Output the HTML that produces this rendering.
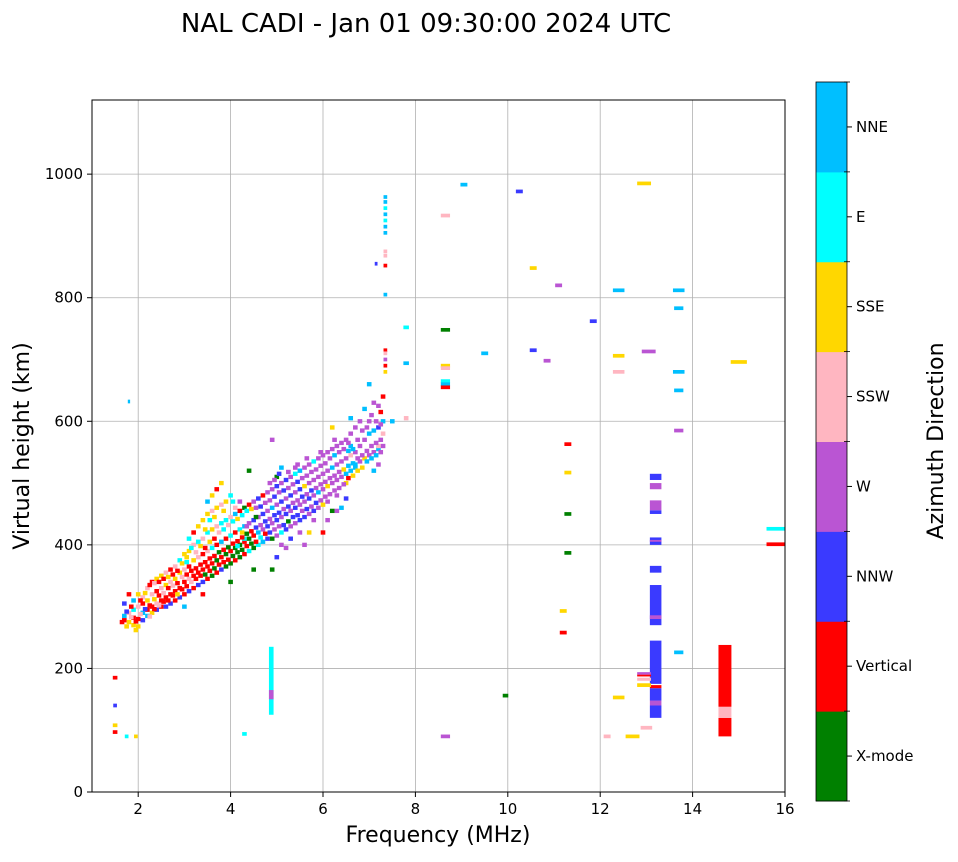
<!DOCTYPE html>
<html><head><meta charset="utf-8"><style>
body{margin:0;background:#fff}
svg text{font-family:"DejaVu Sans","Liberation Sans",sans-serif;fill:#000}
</style></head><body>
<svg id="chart" width="958" height="857" viewBox="0 0 958 857" xmlns="http://www.w3.org/2000/svg">
<text x="426" y="32" font-size="26" text-anchor="middle">NAL CADI - Jan 01 09:30:00 2024 UTC</text>
<g id="grid"></g>
<g id="marks"></g>
<rect x="92" y="100" width="693" height="692" fill="none" stroke="#000" stroke-width="1"/>
<g id="axes"></g>
<text x="438" y="842" font-size="22" text-anchor="middle">Frequency (MHz)</text>
<text transform="translate(29,446) rotate(-90)" font-size="22" text-anchor="middle">Virtual height (km)</text>
<g id="cbar"></g>
<text transform="translate(943,441) rotate(-90)" font-size="22" text-anchor="middle">Azimuth Direction</text>
</svg>
<script>
const categories=['X-mode','Vertical','NNW','W','SSW','SSE','E','NNE'];
const catColors=['#008000','#ff0000','#3a3aff','#ba55d3','#ffb6c1','#ffd700','#00ffff','#00bfff'];
const xTicks=[2,4,6,8,10,12,14,16];
const yTicks=[0,200,400,600,800,1000];
// cloud points: [freq, height, categoryIndex]
const cloudPoints=[
[1.7,285,7],[1.7,278,1],[1.7,305,2],[1.8,290,4],[1.8,275,5],[1.8,320,1],
[1.9,282,1],[1.9,295,6],[1.9,270,5],[1.9,310,7],[2.0,280,1],[2.0,300,4],[2.0,268,5],[2.0,320,5],
[2.1,290,7],[2.1,305,1],[2.1,315,4],[2.1,278,2],[2.2,295,1],[2.2,310,5],[2.2,330,4],[2.2,285,7],
[2.3,300,1],[2.3,320,4],[2.3,340,1],[2.3,290,5],[2.4,305,4],[2.4,325,1],[2.4,345,5],[2.4,295,2],
[2.5,310,1],[2.5,330,4],[2.5,350,5],[2.5,300,1],[2.6,315,1],[2.6,335,5],[2.6,300,2],[2.6,355,4],
[2.7,320,1],[2.7,340,4],[2.7,360,1],[2.7,305,2],[2.8,325,1],[2.8,345,5],[2.8,365,4],[2.8,310,1],
[2.9,330,1],[2.9,355,5],[2.9,375,6],[2.9,315,2],[3.0,340,1],[3.0,360,4],[3.0,385,5],[3.0,320,1],[3.0,300,7],
[3.1,345,4],[3.1,365,1],[3.1,390,5],[3.1,325,2],[3.1,410,6],[3.2,350,1],[3.2,375,5],[3.2,400,4],[3.2,330,1],[3.2,420,1],
[3.3,355,1],[3.3,380,4],[3.3,405,6],[3.3,335,2],[3.3,430,5],[3.4,360,1],[3.4,385,1],[3.4,410,4],[3.4,340,2],[3.4,440,5],[3.4,320,1],
[3.5,365,1],[3.5,390,4],[3.5,420,6],[3.5,345,1],[3.5,450,5],[3.5,470,7],[3.6,370,1],[3.6,395,6],[3.6,425,5],[3.6,350,0],[3.6,455,4],[3.6,480,5],
[3.7,375,0],[3.7,400,1],[3.7,430,4],[3.7,355,1],[3.7,460,5],[3.7,490,1],[3.8,380,1],[3.8,405,7],[3.8,435,6],[3.8,360,2],[3.8,465,4],[3.8,500,5],
[3.9,385,0],[3.9,410,1],[3.9,440,6],[3.9,365,0],[3.9,470,5],[4.0,390,1],[4.0,415,6],[4.0,445,4],[4.0,370,0],[4.0,480,6],[4.0,340,0],
[4.1,395,0],[4.1,420,1],[4.1,450,7],[4.1,375,1],[4.1,460,4],[4.2,400,0],[4.2,425,6],[4.2,455,1],[4.2,380,0],[4.2,470,3],
[4.3,405,1],[4.3,430,7],[4.3,460,0],[4.3,385,1],[4.3,410,6],[4.4,410,0],[4.4,435,3],[4.4,465,1],[4.4,390,6],[4.4,520,0],
[4.5,415,1],[4.5,440,2],[4.5,470,3],[4.5,395,0],[4.5,360,0],[4.6,420,7],[4.6,445,3],[4.6,475,2],[4.6,400,6],
[4.7,425,3],[4.7,450,2],[4.7,480,1],[4.7,405,7],[4.8,430,2],[4.8,455,3],[4.8,485,3],[4.8,410,2],
[4.9,435,3],[4.9,460,7],[4.9,490,3],[4.9,410,0],[4.9,570,3],[4.9,360,0],[5.0,440,2],[5.0,465,3],[5.0,495,2],[5.0,415,3],[5.0,380,2],[5.0,510,0],
[5.1,445,3],[5.1,470,2],[5.1,500,3],[5.1,420,6],[5.1,525,7],[5.1,400,3],[5.2,450,2],[5.2,475,3],[5.2,505,2],[5.2,425,2],[5.2,395,3],
[5.3,455,3],[5.3,480,2],[5.3,510,3],[5.3,430,3],[5.3,410,2],[5.4,460,2],[5.4,485,3],[5.4,515,6],[5.4,435,3],[5.4,525,3],
[5.5,465,3],[5.5,490,2],[5.5,520,7],[5.5,440,2],[5.5,420,3],[5.6,470,3],[5.6,495,5],[5.6,525,3],[5.6,445,2],[5.6,400,3],
[5.7,475,2],[5.7,500,3],[5.7,530,3],[5.7,450,3],[5.7,420,5],[5.8,480,3],[5.8,505,3],[5.8,535,6],[5.8,455,2],[5.8,440,3],
[5.9,485,7],[5.9,510,3],[5.9,540,3],[5.9,460,3],[6.0,490,3],[6.0,515,3],[6.0,545,3],[6.0,465,5],[6.0,420,1],
[6.1,495,5],[6.1,520,3],[6.1,550,3],[6.1,470,3],[6.1,440,3],[6.2,500,3],[6.2,525,7],[6.2,555,3],[6.2,455,0],[6.2,590,5],
[6.3,505,3],[6.3,530,3],[6.3,560,3],[6.3,455,3],[6.3,480,3],[6.4,510,3],[6.4,535,3],[6.4,565,3],[6.4,460,7],
[6.5,515,7],[6.5,540,3],[6.5,570,3],[6.5,475,2],[6.5,500,5],[6.6,520,7],[6.6,545,4],[6.6,580,3],[6.6,605,7],[6.6,560,7],
[6.7,525,7],[6.7,550,3],[6.7,590,3],[6.7,530,7],[6.8,535,3],[6.8,560,3],[6.8,600,3],[6.9,540,5],[6.9,570,3],[6.9,620,7],
[7.0,545,3],[7.0,580,7],[7.0,660,7],[7.0,600,3],[7.1,550,3],[7.1,585,7],[7.1,630,3],[7.1,520,7],
[7.2,555,7],[7.2,590,2],[7.2,625,3],[7.2,560,4],[7.2,530,3],[7.3,560,3],[7.3,600,7],[7.3,640,1],[7.3,580,4],[7.5,600,7],[7.8,605,4]
];
const cloudPoints2=[
[1.65,275,1],[1.75,292,2],[1.75,268,5],[1.85,283,4],[1.85,300,1],[1.95,276,1],[1.95,262,5],[2.05,288,4],[2.05,310,1],
[2.15,296,2],[2.15,322,5],[2.25,302,1],[2.25,284,4],[2.25,335,1],[2.35,312,5],[2.35,296,1],[2.35,338,4],
[2.45,318,1],[2.45,302,4],[2.45,340,1],[2.55,322,4],[2.55,308,1],[2.55,345,1],[2.65,330,1],[2.65,310,1],[2.65,348,5],
[2.75,334,4],[2.75,318,1],[2.75,352,1],[2.85,338,1],[2.85,320,5],[2.85,358,1],[2.95,348,4],[2.95,328,1],[2.95,370,5],
[3.05,352,1],[3.05,333,1],[3.05,380,5],[3.05,372,6],[3.15,358,1],[3.15,340,4],[3.15,395,6],[3.25,362,1],[3.25,345,1],[3.25,388,4],
[3.35,368,1],[3.35,350,1],[3.35,398,5],[3.45,372,1],[3.45,352,0],[3.45,395,1],[3.45,425,5],[3.55,378,1],[3.55,358,1],[3.55,405,5],[3.55,440,6],
[3.65,382,1],[3.65,362,0],[3.65,410,1],[3.65,445,5],[3.75,388,0],[3.75,368,1],[3.75,420,4],[3.85,392,1],[3.85,372,1],[3.85,425,6],[3.85,455,5],
[3.95,396,0],[3.95,376,1],[3.95,432,4],[4.05,402,1],[4.05,382,0],[4.05,438,6],[4.05,470,6],[4.15,406,1],[4.15,388,0],[4.15,442,5],[4.15,398,6],
[4.25,412,1],[4.25,392,0],[4.25,448,6],[4.25,420,5],[4.35,418,0],[4.35,398,1],[4.35,455,6],[4.35,430,3],[4.45,422,1],[4.45,402,0],[4.45,458,5],
[4.55,428,2],[4.55,405,1],[4.55,460,3],[4.55,445,0],[4.65,432,3],[4.65,412,6],[4.65,462,2],[4.75,438,2],[4.75,418,1],[4.75,468,3],
[4.85,442,3],[4.85,420,2],[4.85,472,3],[4.85,500,3],[4.95,448,2],[4.95,425,3],[4.95,478,2],[4.95,505,3],[5.05,452,2],[5.05,430,3],[5.05,485,3],[5.05,515,2],
[5.15,458,3],[5.15,432,2],[5.15,488,2],[5.25,462,2],[5.25,438,0],[5.25,492,3],[5.25,518,3],[5.35,468,3],[5.35,445,2],[5.35,498,3],
[5.45,472,3],[5.45,448,2],[5.45,502,2],[5.45,530,3],[5.55,478,2],[5.55,455,3],[5.55,508,3],[5.65,482,3],[5.65,458,2],[5.65,512,3],[5.65,540,3],
[5.75,488,2],[5.75,462,3],[5.75,518,3],[5.85,492,3],[5.85,468,2],[5.85,522,3],[5.95,498,3],[5.95,472,3],[5.95,528,3],[5.95,550,3],
[6.05,502,3],[6.05,478,3],[6.05,532,3],[6.15,508,3],[6.15,482,3],[6.15,540,3],[6.25,512,3],[6.25,488,3],[6.25,545,7],[6.25,570,3],
[6.35,518,3],[6.35,492,3],[6.35,550,3],[6.45,522,5],[6.45,498,3],[6.45,555,3],[6.55,528,7],[6.55,508,1],[6.55,552,7],[6.55,565,3],
[6.65,532,7],[6.65,512,5],[6.65,555,7],[6.75,540,3],[6.75,520,5],[6.75,570,3],[6.85,545,3],[6.85,525,5],[6.85,585,3],
[6.95,552,3],[6.95,535,7],[6.95,590,3],[7.05,560,3],[7.05,540,7],[7.05,610,3],[7.15,565,3],[7.15,545,7],[7.15,600,3],
[7.25,570,3],[7.25,550,3],[7.25,615,1],[7.25,595,3]
];
// isolated dashes: [freq, height, categoryIndex, widthMHz]
const dashPoints=[
[9.05,983,7,0.15],[10.25,972,2,0.15],[12.95,985,5,0.3],[8.65,933,4,0.2],[10.55,848,5,0.15],[11.1,820,3,0.15],
[12.4,812,7,0.25],[13.7,812,7,0.25],[11.85,762,2,0.15],[13.7,783,7,0.2],[7.8,752,6,0.12],[8.65,748,0,0.2],
[9.5,710,7,0.15],[10.55,715,2,0.15],[10.85,698,3,0.15],[12.4,706,5,0.25],[13.05,713,3,0.3],[15.0,696,5,0.35],
[7.8,694,7,0.12],[8.65,690,5,0.2],[8.65,686,4,0.2],[8.65,665,6,0.2],[8.65,660,7,0.2],[8.65,655,1,0.2],
[12.4,680,4,0.25],[13.7,680,7,0.25],[13.7,650,7,0.2],[13.7,585,3,0.2],[11.3,563,1,0.15],[11.3,517,5,0.15],
[11.3,450,0,0.15],[11.3,387,0,0.15],[11.2,293,5,0.15],[11.2,258,1,0.15],[15.8,426,6,0.4],[15.8,401,1,0.4],
[13.7,226,7,0.2],[12.4,153,5,0.25],[9.95,156,0,0.12],[8.65,90,3,0.2],[12.15,90,4,0.15],[12.7,90,5,0.3],[13.0,104,4,0.25],
[1.5,185,1,0.1],[1.5,140,2,0.08],[1.5,108,5,0.1],[1.5,97,1,0.1],[1.75,90,6,0.08],[1.95,90,5,0.08],[1.8,632,7,0.05],
[7.35,963,7,0.08],[7.35,955,7,0.08],[7.35,945,6,0.08],[7.35,935,7,0.08],[7.35,925,6,0.08],[7.35,915,7,0.08],[7.35,905,7,0.08],
[7.35,875,4,0.08],[7.35,868,4,0.08],[7.35,852,1,0.08],[7.15,855,2,0.06],[7.35,805,7,0.08],[7.35,715,1,0.08],[7.35,710,4,0.08],
[7.35,700,3,0.08],[7.35,690,1,0.08],[7.35,680,5,0.08],[4.3,94,6,0.1]
];
// vertical segments: [freq, hLow, hHigh, categoryIndex, widthMHz]
const segments=[
[4.88,125,235,6,0.1],[4.88,150,165,3,0.1],
[13.2,120,140,2,0.25],[13.2,140,148,3,0.25],[13.2,148,168,2,0.25],[13.2,168,173,1,0.25],[13.2,175,245,2,0.25],
[13.2,270,335,2,0.25],[13.2,280,286,3,0.25],[13.2,355,366,2,0.25],[13.2,400,412,2,0.25],[13.2,405,408,3,0.25],
[13.2,450,456,2,0.25],[13.2,456,472,3,0.25],[13.2,490,500,3,0.25],[13.2,505,515,2,0.25],
[14.7,90,120,1,0.28],[14.7,120,138,4,0.28],[14.7,138,238,1,0.28],
[12.95,170,176,5,0.3],[12.95,180,185,4,0.3],[12.95,187,190,1,0.3],[12.95,190,194,3,0.3]
];
const X0=92,X1=785,Y0=792,Y1=100,FMIN=1,FMAX=16,HMIN=0,HMAX=1120;
const xs=f=>X0+(f-FMIN)/(FMAX-FMIN)*(X1-X0);
const ys=h=>Y0-(h-HMIN)/(HMAX-HMIN)*(Y0-Y1);
const NS='http://www.w3.org/2000/svg';
function mk(tag,attrs,parent){const e=document.createElementNS(NS,tag);for(const k in attrs)e.setAttribute(k,attrs[k]);parent.appendChild(e);return e;}
const grid=document.getElementById('grid'),axes=document.getElementById('axes'),marks=document.getElementById('marks'),cbar=document.getElementById('cbar');
xTicks.forEach(t=>{const x=xs(t);
 const g=mk('line',{x1:x,x2:x,y1:Y1,y2:Y0,stroke:'#b0b0b0','stroke-width':0.8},grid);
 
 
 mk('line',{x1:x,x2:x,y1:Y0,y2:Y0+5,stroke:'#000'},axes);
 const tx=mk('text',{x:x,y:Y0+22,'font-size':15,'text-anchor':'middle'},axes);tx.textContent=t;
 
 });
yTicks.forEach(t=>{const y=ys(t);
 const g=mk('line',{x1:X0,x2:X1,y1:y,y2:y,stroke:'#b0b0b0','stroke-width':0.8},grid);
 
 
 mk('line',{x1:X0-5,x2:X0,y1:y,y2:y,stroke:'#000'},axes);
 const tx=mk('text',{x:X0-9,y:y+5,'font-size':15,'text-anchor':'end'},axes);tx.textContent=t;
 
 });
cloudPoints.concat(cloudPoints2).forEach(p=>{const w=xs(p[0]+0.05)-xs(p[0]-0.05);
 const r=mk('rect',{x:xs(p[0])-w/2,y:ys(p[1]+3.5),width:w,height:ys(p[1]-3.5)-ys(p[1]+3.5),fill:catColors[p[2]]},marks);
 
 });
dashPoints.forEach(p=>{const w=xs(p[0]+p[3]/2)-xs(p[0]-p[3]/2);
 const r=mk('rect',{x:xs(p[0])-w/2,y:ys(p[1]+3),width:w,height:ys(p[1]-3)-ys(p[1]+3),fill:catColors[p[2]]},marks);
 
 });
segments.forEach(s=>{const w=xs(s[0]+s[4]/2)-xs(s[0]-s[4]/2);
 const r=mk('rect',{x:xs(s[0])-w/2,y:ys(s[2]),width:w,height:ys(s[1])-ys(s[2]),fill:catColors[s[3]]},marks);
 
 });
const CB0=801,CB1=82,CX=816,CW=31,seg=(CB0-CB1)/categories.length;
categories.forEach((c,i)=>{const y=CB0-(i+1)*seg;
 const r=mk('rect',{x:CX,y:y,width:CW,height:seg+0.5,fill:catColors[i]},cbar);
 
 
 mk('line',{x1:CX+CW,x2:CX+CW+5,y1:y+seg/2,y2:y+seg/2,stroke:'#000'},cbar);
 const t=mk('text',{x:CX+CW+9,y:y+seg/2+5,'font-size':15},cbar);t.textContent=c;
 
 });
for(let i=0;i<=categories.length;i++){const y=CB0-i*seg;mk('line',{x1:CX+CW-3,x2:CX+CW+3,y1:y,y2:y,stroke:'#000','stroke-width':0.8},cbar);}
mk('rect',{x:CX,y:CB1,width:CW,height:CB0-CB1,fill:'none',stroke:'#000','stroke-width':0.8},cbar);
</script>
</body></html>
